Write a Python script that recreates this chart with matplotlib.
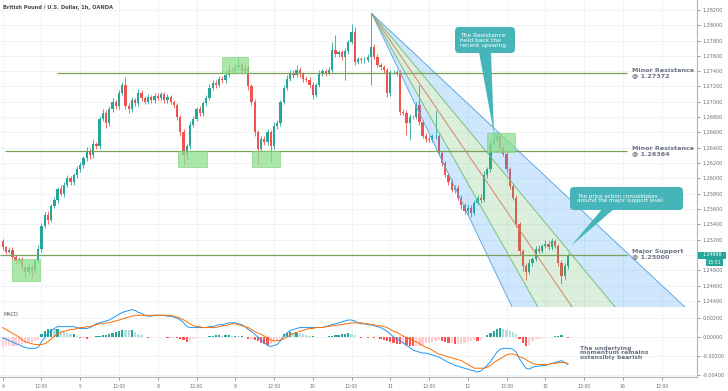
import matplotlib
matplotlib.use("Agg")
import matplotlib.pyplot as plt
import numpy as np
from matplotlib.patches import FancyBboxPatch, Polygon, Rectangle

W, H = 728, 391

# GBP/USD hourly closes, day 4 00:00 onwards (weekend skipped)
first_open = 1.2518
closes = [
    # 4
    1.2510, 1.2504, 1.2507, 1.2498, 1.2492, 1.2495, 1.2484, 1.2478, 1.2484, 1.2479, 1.2492, 1.2508,
    1.2538, 1.2552, 1.2546, 1.2564, 1.2572, 1.2586, 1.2580, 1.2592, 1.2600, 1.2595, 1.2604, 1.2612,
    # 5
    1.2618, 1.2626, 1.2636, 1.2630, 1.2645, 1.2642, 1.2678, 1.2686, 1.2672, 1.2690, 1.2700, 1.2694,
    1.2712, 1.2722, 1.2695, 1.2690, 1.2702, 1.2698, 1.2712, 1.2705, 1.2700, 1.2706, 1.2702, 1.2708,
    # 8
    1.2705, 1.2710, 1.2702, 1.2706, 1.2700, 1.2696, 1.2680, 1.2660, 1.2630, 1.2642, 1.2670, 1.2678,
    1.2690, 1.2685, 1.2698, 1.2705, 1.2718, 1.2725, 1.2722, 1.2730, 1.2728, 1.2735, 1.2742, 1.2740,
    # 9
    1.2745, 1.2748, 1.2740, 1.2744, 1.2720, 1.2700, 1.2660, 1.2638, 1.2652, 1.2648, 1.2660, 1.2642,
    1.2668, 1.2672, 1.2700, 1.2718, 1.2730, 1.2738, 1.2735, 1.2742, 1.2736, 1.2730, 1.2729, 1.2722,
    # 10
    1.2709, 1.2722, 1.2737, 1.2740, 1.2738, 1.2742, 1.2768, 1.2762, 1.2765, 1.2758, 1.2766, 1.2778,
    1.2791, 1.2752, 1.2756, 1.2754, 1.2755, 1.2758, 1.2772, 1.2759, 1.2748, 1.2745, 1.2741, 1.2711,
    # 11
    1.2739, 1.2739, 1.2737, 1.2687, 1.2686, 1.2672, 1.2680, 1.2680, 1.2696, 1.2673, 1.2656, 1.2652,
    1.2650, 1.2655, 1.2655, 1.2633, 1.2620, 1.2605, 1.2595, 1.2585, 1.2588, 1.2575, 1.2565, 1.2558,
    # 12
    1.2562, 1.2555, 1.2568, 1.2575, 1.2572, 1.2605, 1.2612, 1.2645, 1.2650, 1.2655, 1.2640, 1.2632,
    1.2612, 1.2590, 1.2575, 1.2540, 1.2505, 1.2485, 1.2478, 1.2490, 1.2495, 1.2508, 1.2505, 1.2512,
    # 15
    1.2515, 1.2510, 1.2518, 1.2512, 1.2490, 1.2472, 1.2485, 1.24996,
]
# wicks beyond the body, in pips
wick_up = [
    3, 2, 4, 3, 2, 3, 3, 2, 4, 3, 3, 5, 4, 4, 6, 3, 4, 3, 5, 3, 4, 3, 3, 4,
    4, 3, 5, 4, 6, 3, 4, 5, 3, 4, 5, 3, 4, 4, 10, 3, 4, 3, 5, 3, 3, 4, 3, 3,
    4, 3, 3, 4, 3, 3, 3, 3, 4, 3, 5, 4, 3, 4, 3, 4, 5, 4, 3, 4, 4, 5, 8, 4,
    5, 10, 3, 4, 3, 3, 4, 3, 4, 3, 4, 3, 5, 4, 3, 4, 5, 4, 3, 6, 3, 3, 4, 3,
    4, 3, 4, 3, 3, 4, 10, 19, 3, 3, 4, 3, 11, 7, 3, 3, 3, 4, 44, 3, 3, 3, 3, 3,
    3, 3, 3, 4, 3, 3, 4, 3, 4, 26, 3, 3, 4, 3, 34, 3, 3, 3, 3, 4, 3, 3, 3, 3,
    4, 3, 4, 3, 4, 5, 3, 4, 10, 5, 3, 4, 3, 3, 3, 3, 3, 3, 4, 5, 3, 4, 5, 3,
    5, 3, 4, 3, 3, 3, 4, 3,
]
wick_dn = [
    3, 3, 2, 3, 4, 3, 4, 8, 3, 9, 3, 3, 4, 3, 5, 3, 3, 4, 3, 4, 3, 4, 3, 3,
    3, 4, 3, 5, 3, 4, 3, 3, 6, 3, 3, 4, 3, 3, 4, 5, 3, 3, 3, 4, 3, 3, 3, 3,
    3, 3, 4, 3, 3, 4, 4, 5, 12, 6, 3, 3, 3, 4, 3, 3, 3, 3, 4, 3, 3, 3, 3, 3,
    3, 3, 4, 3, 5, 4, 4, 20, 4, 5, 4, 20, 3, 3, 3, 3, 3, 3, 4, 3, 3, 4, 3, 4,
    5, 3, 3, 3, 4, 3, 3, 3, 3, 4, 30, 3, 3, 4, 3, 3, 4, 3, 36, 3, 3, 3, 3, 5,
    3, 3, 3, 4, 3, 15, 22, 3, 3, 3, 3, 4, 3, 3, 3, 3, 4, 3, 4, 3, 4, 3, 5, 4,
    4, 5, 3, 3, 4, 3, 4, 3, 3, 3, 4, 3, 3, 4, 3, 4, 5, 6, 10, 3, 4, 3, 3, 3,
    3, 4, 3, 3, 4, 10, 3, 3,
]
# MACD (blue) and signal (orange), in units of 0.0001
macd_line = [
    -1, -2, -4, -5, -7, -8, -10, -11, -12, -12, -12, -11,
    -5, -1, 4, 7, 9, 11, 11, 11, 11, 11, 11, 10,
    9, 9, 9, 10, 12, 14, 15, 16, 17, 18, 20, 22,
    24, 26, 27, 28, 29, 28, 26, 25, 23, 22, 22, 23,
    23, 23, 23, 22, 22, 21, 20, 18, 15, 11, 10, 10,
    10, 10, 10, 10, 11, 11, 12, 13, 13, 14, 15, 15,
    15, 14, 13, 11, 8, 6, 3, 0, -3, -6, -9, -10,
    -9, -8, -4, 1, 4, 7, 8, 9, 10, 10, 10, 10,
    10, 10, 10, 10, 11, 12, 13, 14, 15, 16, 17, 18,
    18, 17, 15, 14, 14, 13, 13, 12, 11, 10, 8, 6,
    3, 0, -2, -4, -6, -9, -11, -14, -15, -16, -17, -17,
    -18, -19, -20, -21, -23, -25, -27, -28, -30, -31, -32, -33,
    -34, -35, -36, -37, -36, -33, -30, -26, -21, -16, -13, -12,
    -12, -12, -13, -16, -23, -28, -33, -34, -32, -31, -31, -30,
    -30, -29, -28, -27, -26, -25, -27, -29,
]
signal_line = [
    10, 8, 6, 4, 2, 0, -3, -5, -6, -7, -8, -8,
    -8, -7, -5, -2, 1, 3, 5, 6, 7, 8, 8, 9,
    10, 10, 11, 11, 12, 13, 14, 14, 15, 15, 16, 17,
    18, 19, 20, 21, 22, 23, 23, 23, 23, 23, 23, 23,
    23, 23, 23, 23, 23, 22, 21, 20, 18, 16, 14, 12,
    11, 11, 10, 10, 10, 10, 10, 11, 12, 12, 13, 14,
    14, 13, 12, 11, 10, 8, 6, 4, 3, 1, -1, -3,
    -4, -4, -3, -2, 0, 2, 4, 5, 6, 7, 8, 9,
    9, 10, 10, 10, 11, 11, 12, 12, 13, 13, 14, 14,
    15, 15, 15, 15, 14, 14, 13, 13, 12, 12, 11, 10,
    8, 6, 5, 3, 1, -1, -2, -4, -5, -7, -9, -11,
    -12, -14, -16, -18, -19, -20, -21, -22, -23, -24, -25, -27,
    -29, -31, -33, -33, -33, -33, -32, -30, -27, -25, -23, -21,
    -19, -18, -18, -19, -21, -22, -24, -26, -28, -29, -29, -29,
    -29, -29, -28, -28, -27, -27, -27, -28,
]

levels = [1.27372, 1.26364, 1.25000]
level_names = ["Minor Resistance", "Minor Resistance", "Major Support"]
level_start = [16.8, 0.7, -0.8]
level_end = 193.3

# highlighted zones: (hour from, hour to, price low, price high)
zones = [
    (2.9, 11.5, 1.24661, 1.24948),
    (54.3, 63.3, 1.26149, 1.26358),
    (67.9, 75.9, 1.27376, 1.27585),
    (77.2, 85.9, 1.26149, 1.26358),
    (150.0, 158.6, 1.26345, 1.26593),
]

# fan drawn from the swing high; end hours where each ray meets fan_bottom
fan_origin = (114.3, 1.2815)
fan_bottom = 1.24321
fan_ends = [157.7, 165.7, 176.3, 189.6, 211.2]

day_labels = ["4", "12:00", "5", "12:00", "8", "12:00", "9", "12:00", "10", "12:00",
              "11", "12:00", "12", "12:00", "15", "12:00", "16", "12:00"]

assert len(closes) == len(wick_up) == len(wick_dn) == len(macd_line) == len(signal_line)

UP, DN = "#26a69a", "#ef5350"
GRID = "#eef1f6"
AXC = "#b2b5be"
LBL = "#6b6f7a"

closes = np.array(closes)
hours = np.arange(len(closes))
opens = np.r_[first_open, closes[:-1]]
highs = np.maximum(opens, closes) + np.array(wick_up) * 1e-4
lows = np.minimum(opens, closes) - np.array(wick_dn) * 1e-4
colors = np.where(closes >= opens, UP, DN)

fig = plt.figure(figsize=(W / 100, H / 100), dpi=100)
ax = fig.add_axes([0, 1 - 307 / H, 697 / W, 307 / H])
mx = fig.add_axes([0, 1 - 377 / H, 697 / W, 70 / H])

xlim = (-2.7 / 3.23, 694.3 / 3.23)
for a in (ax, mx):
    a.set_xlim(*xlim)
    a.set_xticks(np.arange(0, 205, 12))
    a.grid(True, color=GRID, lw=0.6)
    a.set_axisbelow(True)
    for s in ("left", "top"):
        a.spines[s].set_visible(False)
    for s in ("right", "bottom"):
        a.spines[s].set_color(AXC)
        a.spines[s].set_linewidth(0.8)
    a.yaxis.tick_right()
    a.tick_params(axis="y", labelsize=3.5, colors=LBL, length=2, width=0.5, pad=2)
    a.tick_params(axis="x", labelsize=3.3, colors=LBL, length=2, width=0.5, pad=3)

ax.set_ylim(1.25 - 52 / 7660, 1.25 + 255 / 7660)
pt = np.arange(1.244, 1.2821, 0.002)
ax.set_yticks(pt)
ax.set_yticklabels(["%.5f" % p for p in pt])
ax.tick_params(axis="x", labelbottom=False, length=0)

# candles
ax.vlines(hours, lows, highs, colors=colors, lw=0.6, zorder=2)
body = np.maximum(np.abs(closes - opens), 0.00004)
ax.bar(hours, body, bottom=np.minimum(opens, closes), width=0.7, color=colors, lw=0, zorder=3)

# fan
h0, p0 = fan_origin
p_far = 1.20
def ray(h_end):
    return h0 + (h_end - h0) * (p0 - p_far) / (p0 - fan_bottom)
ends = [ray(h) for h in fan_ends]
ax.add_patch(Polygon([(h0, p0), (ends[0], p_far), (ends[1], p_far)], closed=True,
                     fc="#2196f3", alpha=0.22, ec="none", zorder=4))
ax.add_patch(Polygon([(h0, p0), (ends[1], p_far), (ends[3], p_far)], closed=True,
                     fc="#4caf50", alpha=0.2, ec="none", zorder=4))
ax.add_patch(Polygon([(h0, p0), (ends[3], p_far), (ends[4], p_far)], closed=True,
                     fc="#2196f3", alpha=0.22, ec="none", zorder=4))
for e, c in zip(ends, ["#64a8e0", "#7cc07a", "#d9826a", "#7cc07a", "#64a8e0"]):
    ax.plot([h0, e], [p0, p_far], color=c, lw=0.7, zorder=5)

# levels and zones
for lv, hs in zip(levels, level_start):
    ax.hlines(lv, hs, level_end, color="#7aa05a", lw=0.9, zorder=6)
for a_, b_, lo, hi in zones:
    ax.add_patch(Rectangle((a_, lo), b_ - a_, hi - lo, fc="#8fe08c", ec="#72cc70",
                           lw=0.5, alpha=0.75, zorder=7))

# MACD panel
macd = np.array(macd_line) * 1e-4
sig = np.array(signal_line) * 1e-4
hist = macd - sig
prev = np.r_[hist[0], hist[:-1]]
hcol = np.where(hist >= 0, np.where(hist >= prev, "#26a69a", "#b2dfdb"),
                np.where(hist < prev, "#ff5252", "#ffcdd2"))
mx.bar(hours, hist, width=0.7, color=hcol, lw=0, zorder=2)
mx.plot(hours, macd, color="#2196f3", lw=0.7, zorder=3)
mx.plot(hours, sig, color="#ff6d00", lw=0.7, zorder=3)
mx.set_ylim(-0.00423, 0.003175)
mt = [0.002, 0.0, -0.002, -0.004]
mx.set_yticks(mt)
mx.set_yticklabels(["%.5f" % v for v in mt])
mx.set_xticklabels(day_labels)

# overlay in pixel coordinates
ov = fig.add_axes([0, 0, 1, 1], zorder=10)
ov.set_xlim(0, W)
ov.set_ylim(H, 0)
ov.axis("off")
ov.patch.set_alpha(0)

ov.text(3, 7, "British Pound / U.S. Dollar, 1h, OANDA", fontsize=3.7, weight="bold",
        color="#434651", va="center")
ov.text(4, 314, "MACD", fontsize=3.6, color="#50535e", va="center")

for lv, name, y in zip(levels, level_names, [73, 151, 254]):
    ov.text(632, y, "%s\n@ %.5f" % (name, lv), fontsize=4.6, weight="bold",
            color="#6a7282", va="center", linespacing=0.95)

ov.text(580, 353, "The underlying\nmomentum remains\nostensibly bearish", fontsize=4.3,
        weight="bold", color="#6a7282", va="center", linespacing=0.95)

TEAL = "#45b5b9"
ov.add_patch(Polygon([(479, 52), (491, 52), (494, 134)], closed=True, fc=TEAL, ec="none"))
ov.add_patch(FancyBboxPatch((455, 27), 60, 26, boxstyle="round,pad=0,rounding_size=4",
                            fc=TEAL, ec="none"))
ov.text(460, 40.5, "The Resistance\nheld back the\nrecent upswing", fontsize=4.3,
        color="white", va="center", linespacing=0.95)

ov.add_patch(Polygon([(603, 208), (615, 208), (571, 246)], closed=True, fc=TEAL, ec="none"))
ov.add_patch(FancyBboxPatch((570, 187), 113, 23, boxstyle="round,pad=0,rounding_size=4",
                            fc=TEAL, ec="none"))
ov.text(577, 198.5, "The price action consolidates\naround the major support level",
        fontsize=4.0, color="white", va="center", linespacing=0.95)

# last price tags
ov.add_patch(Rectangle((698, 251.5), 28, 7, fc="#26a69a", ec="none"))
ov.text(712, 255, "1.24996", fontsize=3.4, color="white", ha="center", va="center")
ov.add_patch(Rectangle((706, 259), 17, 6.5, fc="#26a69a", ec="none"))
ov.text(714.5, 262.2, "13:51", fontsize=3.4, color="white", ha="center", va="center")

fig.savefig("out.png", dpi=100)
